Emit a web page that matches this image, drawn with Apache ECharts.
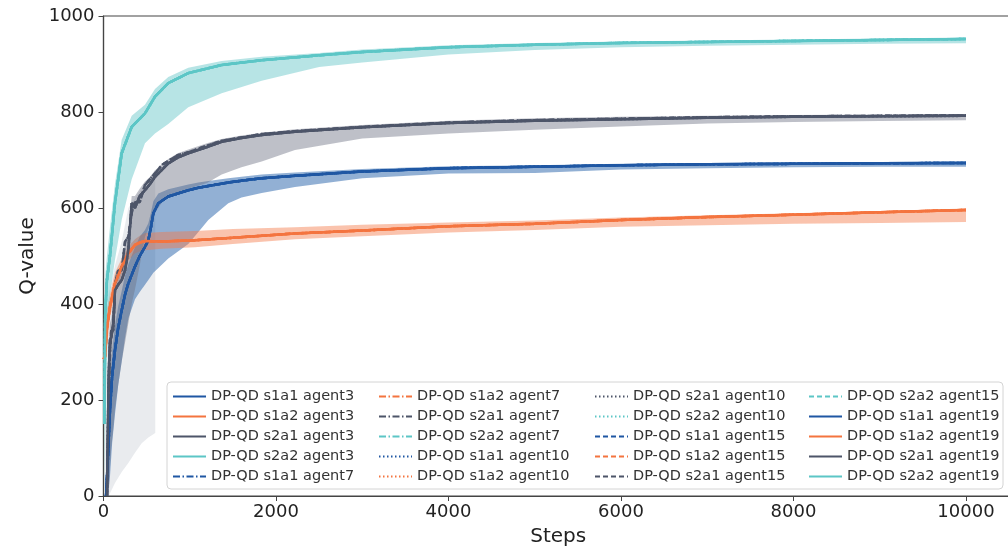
<!DOCTYPE html>
<html>
<head>
<meta charset="utf-8">
<script src="https://cdn.jsdelivr.net/npm/echarts@6/dist/echarts.min.js"></script>
<style>
html, body { margin: 0; padding: 0; background: #fff; }
#main { width: 1008px; height: 549px; }
</style>
</head>
<body>
<div id="main"></div>
<script>
// s2a2 (teal)
var tealSteps = [10, 20, 40, 75, 133, 211, 327, 481, 597, 751, 983, 1370, 1834, 2500, 3000, 4000, 5000, 6000, 7000, 8000, 9000, 10000];
var tealMean  = [150, 380, 450, 500, 610, 714, 769, 797, 832, 860, 881, 898, 908, 918, 925, 935, 940, 944, 946, 948, 950, 952];
var tealHi    = [400, 460, 500, 560, 650, 742, 792, 815, 848, 873, 892, 906, 915, 923, 930, 939, 944, 947, 949, 951, 953, 955];
var tealLo    = [0, 150, 300, 420, 492, 575, 660, 735, 755, 775, 810, 839, 865, 894, 903, 920, 929, 935, 938, 940, 942, 943];

// s2a1 (dark gray)
var graySteps   = [40, 60, 75, 90, 114, 133, 170, 211, 250, 288, 327, 365, 420, 481, 540, 597, 680, 751, 860, 983, 1200, 1370, 1600, 1834, 2220, 3000, 4000, 5000, 6000, 7000, 8000, 9000, 10000];
var grayMean    = [0, 250, 325, 330, 360, 429, 440, 450, 470, 512, 610, 600, 625, 637, 650, 665, 680, 693, 705, 714, 727, 738, 746, 752, 759, 768, 777, 782, 785, 788, 790, 791, 792];
var grayAltMean = [0, 200, 300, 345, 345, 440, 470, 470, 530, 540, 590, 612, 612, 648, 660, 672, 690, 698, 710, 716, 730, 740, 747, 754, 760, 769, 778, 783, 786, 789, 791, 792, 793];
var grayHi      = [40, 300, 360, 370, 400, 460, 470, 480, 530, 550, 625, 625, 640, 655, 665, 678, 692, 702, 714, 722, 735, 744, 751, 757, 764, 773, 782, 787, 790, 792, 794, 795, 796];
var grayLo      = [0, 0, 60, 100, 140, 180, 230, 280, 320, 360, 400, 430, 480, 540, 565, 590, 612, 625, 631, 640, 652, 670, 685, 697, 721, 745, 755, 763, 770, 776, 779, 781, 783];

// early wide spread of s2a1 (light gray)
var wideSteps = [20, 60, 133, 211, 288, 365, 443, 520, 600];
var wideLo    = [0, 0, 27, 50, 69, 90, 110, 122, 131];
var wideHi    = [300, 420, 480, 530, 600, 620, 640, 660, 680];

// s1a1 (blue)
var blueSteps = [30, 50, 75, 100, 133, 170, 211, 250, 288, 365, 420, 481, 520, 550, 578, 636, 751, 983, 1100, 1215, 1447, 1600, 1834, 2220, 3000, 4000, 5000, 6000, 7000, 8000, 9000, 10000];
var blueMean  = [0, 75, 180, 250, 304, 350, 387, 420, 443, 478, 500, 519, 533, 560, 589, 610, 624, 637, 642, 646, 653, 657, 662, 667, 676, 683, 686, 689, 691, 692, 693, 694];
var blueHi    = [30, 115, 230, 300, 354, 395, 427, 460, 483, 518, 540, 554, 568, 590, 614, 630, 639, 649, 653, 656, 662, 665, 670, 674, 681, 687, 689, 692, 694, 695, 696, 697];
var blueLo    = [0, 0, 40, 110, 170, 230, 280, 330, 370, 410, 425, 440, 450, 458, 465, 475, 495, 525, 550, 575, 610, 622, 631, 644, 662, 672, 673, 680, 683, 685, 686, 686];

// s1a2 (orange)
var orangeSteps = [0, 17, 40, 75, 133, 211, 288, 365, 420, 481, 675, 1061, 1500, 2220, 3000, 4000, 5000, 6000, 7000, 8000, 9000, 10000];
var orangeMean  = [285, 290, 350, 394, 443, 478, 506, 523, 528, 531, 530, 533, 538, 547, 553, 562, 567, 575, 581, 586, 591, 596];
var orangeHi    = [300, 330, 390, 420, 465, 495, 520, 535, 542, 548, 550, 552, 556, 560, 565, 570, 574, 580, 585, 589, 594, 599];
var orangeLo    = [270, 260, 310, 370, 420, 460, 490, 505, 510, 512, 515, 518, 525, 535, 541, 549, 554, 561, 564, 567, 569, 571];

var agents = ['agent3', 'agent7', 'agent10', 'agent15', 'agent19'];
var xTicks = [0, 2000, 4000, 6000, 8000, 10000];
var yTicks = [0, 200, 400, 600, 800, 1000];

var groups = [
	{ key: 's1a1', color: '#1f57a3', band: 'rgba(38,98,170,0.5)', steps: blueSteps, mean: blueMean, hi: blueHi, lo: blueLo },
	{ key: 's1a2', color: '#f4743f', band: 'rgba(244,122,74,0.45)', steps: orangeSteps, mean: orangeMean, hi: orangeHi, lo: orangeLo },
	{ key: 's2a1', color: '#4d5569', band: 'rgba(110,116,134,0.45)', steps: graySteps, mean: grayMean, alt: grayAltMean, hi: grayHi, lo: grayLo },
	{ key: 's2a2', color: '#5cc6c6', band: 'rgba(96,196,198,0.45)', steps: tealSteps, mean: tealMean, hi: tealHi, lo: tealLo }
];

var dashes = {
	agent3: 'solid',
	agent7: [7, 2.5, 1.5, 2.5],
	agent10: [1.5, 2.5],
	agent15: [5, 3],
	agent19: 'solid'
};

function pairs(steps, vals) {
	var out = [];
	for (var i = 0; i < steps.length; i++) {
		out.push([steps[i], vals[i]]);
	}
	return out;
}

// 阴影带：一个多边形，上沿 + 反向下沿
function bandSeries(steps, hi, lo, color) {
	var data = [];
	for (var i = 0; i < steps.length; i++) {
		data.push([steps[i], lo[i], hi[i]]);
	}
	return {
		type: 'custom',
		silent: true,
		z: 1,
		data: data,
		encode: { x: 0, y: [1, 2] },
		renderItem: function (params, api) {
			if (params.dataIndex !== 0) {
				return null;
			}
			var pts = [];
			for (var i = 0; i < data.length; i++) {
				pts.push(api.coord([data[i][0], data[i][2]]));
			}
			for (var i = data.length - 1; i >= 0; i--) {
				pts.push(api.coord([data[i][0], data[i][1]]));
			}
			return {
				type: 'polygon',
				shape: { points: pts },
				clipPath: {
					type: 'rect',
					shape: { x: params.coordSys.x, y: params.coordSys.y, width: params.coordSys.width, height: params.coordSys.height }
				},
				style: { fill: color }
			};
		}
	};
}

var series = [];
series.push(bandSeries(wideSteps, wideHi, wideLo, 'rgba(200,204,212,0.4)'));
for (var g = 0; g < groups.length; g++) {
	series.push(bandSeries(groups[g].steps, groups[g].hi, groups[g].lo, groups[g].band));
}

var legendNames = [];
for (var a = 0; a < agents.length; a++) {
	for (var g = 0; g < groups.length; g++) {
		var name = 'DP-QD ' + groups[g].key + ' ' + agents[a];
		var vals = groups[g].mean;
		// agent7 / agent15 的 s2a1 曲线前段略有不同
		if (groups[g].alt && (agents[a] == 'agent7' || agents[a] == 'agent15')) {
			vals = groups[g].alt;
		}
		legendNames.push(name);
		series.push({
			name: name,
			type: 'line',
			data: pairs(groups[g].steps, vals),
			symbol: 'none',
			color: groups[g].color,
			lineStyle: { width: 2.5, type: dashes[agents[a]], color: groups[g].color },
			z: 2
		});
	}
}

var legendLeft = [172, 378, 594, 808];
var legends = [];
for (var c = 0; c < 4; c++) {
	legends.push({
		orient: 'vertical',
		left: legendLeft[c],
		top: 389,
		padding: 0,
		itemWidth: 33,
		itemHeight: 14,
		itemGap: 5,
		z: 5,
		itemStyle: { opacity: 0 },
		data: legendNames.slice(c * 5, c * 5 + 5),
		textStyle: { fontFamily: 'DejaVu Sans', fontSize: 14.5, color: '#333' }
	});
}

var myChart = echarts.init(document.getElementById('main'));
myChart.setOption({
	animation: false,
	textStyle: { fontFamily: 'DejaVu Sans' },
	grid: {
		left: 103.5,
		right: -5,
		top: 16,
		bottom: 53,
		outerBoundsMode: 'none',
		containLabel: false,
		show: true,
		borderColor: '#444',
		borderWidth: 1.2
	},
	legend: legends,
	graphic: [{
		type: 'rect',
		z: 3,
		shape: { x: 167, y: 382, width: 836, height: 107, r: 4 },
		style: { fill: 'rgba(255,255,255,0.8)', stroke: '#d4d4d4', lineWidth: 1 }
	}],
	xAxis: {
		type: 'value',
		min: xTicks[0],
		max: 10545,
		interval: xTicks[1] - xTicks[0],
		name: 'Steps',
		nameLocation: 'middle',
		nameGap: 31,
		nameTextStyle: { fontSize: 20, color: '#222' },
		axisLine: { lineStyle: { color: '#444', width: 1.2 } },
		axisTick: { length: 5, lineStyle: { color: '#444' } },
		axisLabel: {
			fontSize: 18, color: '#222', margin: 7, showMaxLabel: false,
			formatter: function (v) { return String(v); }
		},
		splitLine: { show: false }
	},
	yAxis: {
		type: 'value',
		min: yTicks[0],
		max: yTicks[yTicks.length - 1],
		interval: yTicks[1] - yTicks[0],
		name: 'Q-value',
		nameLocation: 'middle',
		nameGap: 63,
		nameTextStyle: { fontSize: 20, color: '#222' },
		axisLine: { show: true, lineStyle: { color: '#444', width: 1.2 } },
		axisTick: { show: true, length: 5, lineStyle: { color: '#444' } },
		axisLabel: {
			fontSize: 18, color: '#222', margin: 9,
			formatter: function (v) { return String(v); }
		},
		splitLine: { show: false }
	},
	series: series
});
</script>
</body>
</html>
